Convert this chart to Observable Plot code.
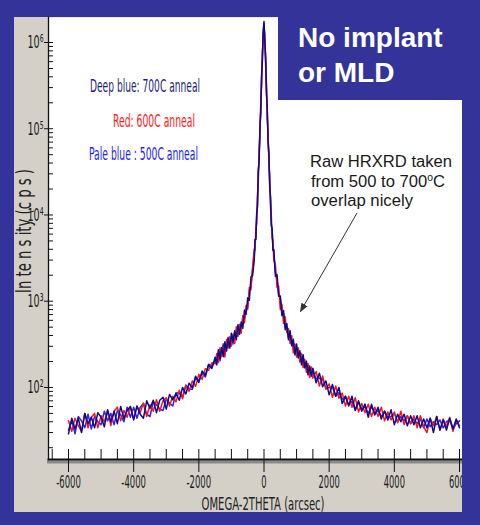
<!DOCTYPE html>
<html><head><meta charset="utf-8">
<script src="https://cdn.jsdelivr.net/npm/d3@7"></script>
<script src="https://cdn.jsdelivr.net/npm/@observablehq/plot@0.6"></script>
<style>
html,body{margin:0;padding:0;}
body{width:480px;height:525px;background:#333399;position:relative;overflow:hidden;}
#panel{position:absolute;left:14px;top:17px;width:448px;height:495px;background:#d4d0c8;}
#chart{position:absolute;left:0;top:0;}
#over{position:absolute;left:0;top:0;}
</style></head><body>
<div id="panel"></div>
<div id="chart"></div>
<svg id="over" width="480" height="525" xmlns="http://www.w3.org/2000/svg">
  <defs><marker id="ah" viewBox="0 0 10 10" refX="9" refY="5" markerWidth="9" markerHeight="9" orient="auto-start-reverse" markerUnits="userSpaceOnUse"><path d="M0,1 L10,5 L0,9 z" fill="#333"/></marker></defs>
  <g font-family="'Liberation Sans Narrow','DejaVu Sans Condensed',Arial,sans-serif" font-size="17">
    <text x="90" y="91.5" fill="#1f1f7a" textLength="110" lengthAdjust="spacingAndGlyphs">Deep blue: 700C anneal</text>
    <text x="113" y="126.7" fill="#ff2020" textLength="82" lengthAdjust="spacingAndGlyphs">Red: 600C anneal</text>
    <text x="89" y="160" fill="#2222ff" textLength="109" lengthAdjust="spacingAndGlyphs">Pale blue : 500C anneal</text>
    <text x="263" y="510" text-anchor="middle" fill="#222" textLength="123" lengthAdjust="spacingAndGlyphs">OMEGA-2THETA  (arcsec)</text>
    <text transform="translate(31,231) rotate(-90)" text-anchor="middle" fill="#222" font-size="22" textLength="124" lengthAdjust="spacingAndGlyphs">In te n s ity  (c p s )</text>
  </g>
  <g font-family="'Liberation Sans',Arial,sans-serif" font-size="16" fill="#1a1a1a">
    <text x="310" y="167" textLength="142" lengthAdjust="spacingAndGlyphs">Raw HRXRD taken</text>
    <text x="311" y="187" textLength="134" lengthAdjust="spacingAndGlyphs">from 500 to 700<tspan font-size="10" dy="-6">o</tspan><tspan dy="6">C</tspan></text>
    <text x="311" y="205.5" textLength="102" lengthAdjust="spacingAndGlyphs">overlap nicely</text>
  </g>
  <line x1="357" y1="213" x2="300.5" y2="311.5" stroke="#333" stroke-width="1" marker-end="url(#ah)"/>
  <rect x="278" y="0" width="202" height="100" fill="#333399"/>
  <rect x="462" y="0" width="18" height="525" fill="#333399"/>
  <rect x="0" y="512" width="480" height="13" fill="#333399"/>
  <g font-family="'Liberation Sans',Arial,sans-serif" font-size="28" font-weight="bold" fill="#fff">
    <text x="298" y="46.5">No implant</text>
    <text x="298" y="81.5">or MLD</text>
  </g>
</svg>
<script>
const omega2theta = [
-6000,-5900,-5800,-5700,-5600,-5500,-5400,-5300,-5200,-5100,-5000,-4900,-4800,-4700,-4600,-4500,-4400,-4300,-4200,-4100,-4000,-3900,-3800,-3700,-3600,-3500,-3400,-3300,-3200,-3100,-3000,-2900,-2800,-2700,-2600,-2500,-2400,-2300,-2200,-2100,-2000,-1900,-1800,-1700,-1600,-1500,
-1450,-1400,-1350,-1300,-1250,-1200,-1150,-1100,-1050,-1000,-950,-900,-850,-800,-750,-700,-650,-600,-550,-500,-450,-400,-350,
-300,-275,-250,-225,-200,-175,-150,-125,-100,-75,-50,-25,0,25,50,75,100,125,150,175,200,225,250,275,
300,350,400,450,500,550,600,650,700,750,800,850,900,950,1000,1050,1100,1150,1200,1250,1300,1350,1400,1450,
1500,1600,1700,1800,1900,2000,2100,2200,2300,2400,2500,2600,2700,2800,2900,3000,3100,3200,3300,3400,3500,3600,3700,3800,3900,4000,4100,4200,4300,4400,4500,4600,4700,4800,4900,5000,5100,5200,5300,5400,5500,5600,5700,5800,5900,6000];

const deepBlue700 = [
29,44,33,44,30,50,38,45,34,51,45,35,55,40,53,38,60,44,54,60,42,61,49,44,70,57,71,51,71,77,56,83,72,85,71,100,84,112,99,135,114,155,138,183,166,224,
183,274,216,291,227,338,264,366,286,426,338,454,357,534,414,575,485,792,702,1093,1020,1920,1980,
3000,5200,5200,10500,12500,33000,42000,105000,155000,400000,620000,1350000,1750000,1000000,680000,260000,170000,70000,52000,21000,16000,7500,6900,3900,
4000,1950,2040,1144,1150,680,780,468,552,357,456,304,362,238,318,220,267,183,240,169,202,140,177,135,
167,113,146,102,119,82,108,79,100,65,79,61,79,54,70,53,64,45,64,48,59,43,53,42,55,37,49,40,49,36,47,37,47,34,43,34,44,30,46,32,42,32,44,33,43,34];

const red600 = [
41,31,44,36,31,50,34,45,50,34,47,40,54,36,53,59,41,54,45,60,43,60,51,66,46,63,53,72,53,70,76,61,79,68,93,74,104,90,119,103,142,124,165,158,193,188,
247,194,288,228,294,226,360,286,386,302,413,324,504,401,541,425,684,561,897,808,1440,1360,2530,
4000,3900,6900,8000,17500,24000,57000,80000,205000,310000,780000,1100000,1500000,1250000,540000,340000,130000,90000,40000,29000,12000,9800,5300,5200,
3000,2645,1445,1495,800,920,553,660,432,483,323,397,252,319,225,288,197,247,170,211,150,190,130,173,
128,153,104,136,95,110,77,104,75,86,61,79,59,76,52,65,51,64,46,59,46,59,41,52,42,52,39,53,37,47,38,47,34,47,35,30,44,36,46,32,43,35,45,31,42,36];

const paleBlue500 = [
32,41,29,46,41,34,49,33,46,40,37,53,41,50,37,54,48,40,59,45,59,44,59,65,49,46,68,63,56,54,73,66,61,87,85,78,107,95,95,129,121,145,132,186,175,204,
215,251,204,266,320,254,315,382,302,373,319,435,441,392,517,475,627,627,819,855,1320,1520,2310,
3300,4900,5500,9700,13500,31000,45000,98000,165000,380000,660000,1280000,1650000,1050000,640000,275000,160000,74000,48000,23000,15200,7900,6500,4100,
3675,2185,1785,1196,1100,720,715,523,504,378,418,328,331,261,292,225,255,198,216,173,190,152,167,143,
152,126,128,124,98,100,102,79,87,73,79,63,69,55,67,56,60,50,60,50,54,46,53,45,46,50,40,46,41,47,38,43,38,43,34,43,35,40,37,42,34,40,42,33,38,41];

const xMajorTicks = [-6000,-4000,-2000,0,2000,4000,6000];
const xMinorTicks = [-6500,-6000,-5500,-5000,-4500,-4000,-3500,-3000,-2500,-2000,-1500,-1000,-500,0,500,1000,1500,2000,2500,3000,3500,4000,4500,5000,5500,6000];
const yMajorTicks = [1e2,1e3,1e4,1e5,1e6];
const yMinorTicks = [20,30,40,50,60,70,80,90,100,200,300,400,500,600,700,800,900,1000,2000,3000,4000,5000,6000,7000,8000,9000,10000,20000,30000,40000,50000,60000,70000,80000,90000,100000,200000,300000,400000,500000,600000,700000,800000,900000,1000000];
const supers = {2:"\u00b2",3:"\u00b3",4:"\u2074",5:"\u2075",6:"\u2076"};

const series = (vals) => omega2theta.map((x,i)=>({x, y: vals[i]}));

const chart = Plot.plot({
  width: 480, height: 525,
  marginTop: 17, marginRight: 18, marginBottom: 66, marginLeft: 48,
  style: {background: "transparent", fontFamily: "'Liberation Sans Narrow','DejaVu Sans Condensed',Arial,sans-serif", color: "#1a1a1a"},
  x: {type: "linear", domain: [-6614, 6092]},
  y: {type: "log", domain: [14.6, 1.95e6]},
  marks: [
    Plot.frame({fill: "white", stroke: null}),
    Plot.line(series(paleBlue500), {x: "x", y: "y", stroke: "#2424ff", strokeWidth: 1.5}),
    Plot.line(series(red600), {x: "x", y: "y", stroke: "#ff1414", strokeWidth: 1.5}),
    Plot.line(series(deepBlue700), {x: "x", y: "y", stroke: "#0c0c8c", strokeWidth: 1.5}),
    Plot.frame({anchor: "bottom", stroke: "#8a8a8a", strokeWidth: 3, dy: 2.5}),
    Plot.frame({anchor: "bottom", stroke: "#111", strokeWidth: 2}),
    Plot.frame({anchor: "left", stroke: "#111", strokeWidth: 1.3}),
    Plot.axisX({ticks: xMinorTicks, tickSize: 10, dy: -10, fill: "none", stroke: "#111", label: null}),
    Plot.axisX({ticks: xMajorTicks, tickSize: 13, tickPadding: 3, fontSize: 18, stroke: "#111", fill: "#1a1a1a", tickFormat: d => String(d), label: null}),
    Plot.axisY({ticks: yMinorTicks, tickSize: 5, dx: 5, fill: "none", stroke: "#111", label: null}),
    Plot.axisY({ticks: yMajorTicks, tickSize: 4, tickPadding: 1, fontSize: 18, stroke: "#111", fill: "#1a1a1a", tickFormat: d => "10" + supers[Math.round(Math.log10(d))], label: null})
  ]
});
document.getElementById("chart").appendChild(chart);

d3.select(chart).selectAll('g[aria-label="x-axis tick label"] text').each(function(){
  const t = this.textContent;
  const w = t.replace("-","").length * 5.3 + (t.startsWith("-") ? 3.5 : 0);
  this.setAttribute("textLength", w);
  this.setAttribute("lengthAdjust", "spacingAndGlyphs");
});
d3.select(chart).selectAll('g[aria-label="y-axis tick label"] text').each(function(){
  this.setAttribute("textLength", 16);
  this.setAttribute("lengthAdjust", "spacingAndGlyphs");
});
</script>
</body></html>
